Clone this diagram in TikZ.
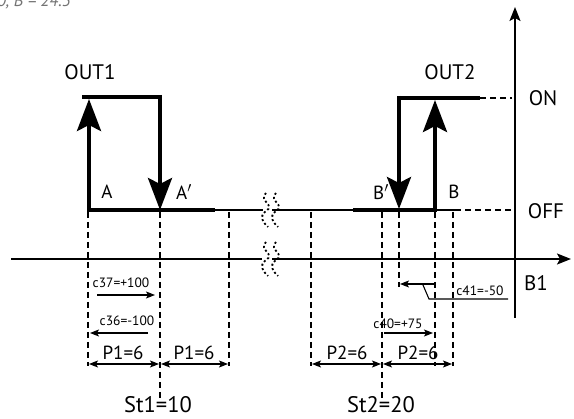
\documentclass[tikz,border=0pt]{standalone}
\usepackage{fontspec}
\setmainfont{PT Sans}
\usetikzlibrary{arrows.meta}
\tikzset{
  thickline/.style={line width=4pt},
  thinline/.style={line width=1.4pt},
  dashline/.style={line width=1.3pt, dash pattern=on 6pt off 4pt},
  bigarrow/.style={line width=4pt, -{Stealth[length=32pt,width=24pt,inset=6pt]}},
  smallarrow/.style={line width=1.1pt, -{Stealth[length=9pt,width=7pt,inset=2pt]}},
  dimarrow/.style={line width=1.1pt, {Stealth[length=9pt,width=7pt,inset=2pt]}-{Stealth[length=9pt,width=7pt,inset=2pt]}},
  squig/.style={line width=1.8pt, dash pattern=on 2pt off 2.4pt},
  big/.style={font=\fontsize{21}{21}\selectfont, inner sep=0pt},
  mid/.style={font=\fontsize{19}{19}\selectfont, inner sep=0pt},
  small/.style={font=\fontsize{13.5}{13.5}\selectfont, inner sep=0pt},
  stlabel/.style={font=\fontsize{22.5}{22.5}\selectfont, inner sep=0pt},
}
\begin{document}
\begin{tikzpicture}[x=1pt,y=-1pt]
\useasboundingbox (0,0) rectangle (574,419);
% clipped header text
\node[anchor=base west, inner sep=0pt, text=black!55, font=\fontsize{17}{17}\itshape] (hdr) at (-3,7) {0, B = 24.5};

% OUT1
\draw[thickline] (82,97) -- (162,97);
\draw[bigarrow] (89,212) -- (89,99);
\draw[bigarrow] (160,95) -- (160,210);
\draw[thickline] (87,210) -- (215,210);
% OUT2
\draw[thickline] (397,98) -- (480,98);
\draw[bigarrow] (399,96) -- (399,209);
\draw[bigarrow] (435,212) -- (435,100);
\draw[thickline] (353,210) -- (437,210);

% thin base line with break
\draw[thinline] (215,210) -- (263,210);
\draw[thinline] (272,210) -- (353,210);
\draw[thinline] (437,210) -- (455,210);

% main axes
\coordinate (hx0) at (11,259);
\coordinate (hx1) at (571,259);
\draw[thinline] (hx0) -- (262,259);
\draw[thinline, -{Stealth[length=14pt,width=11pt,inset=3pt]}] (272,259) -- (hx1);
\coordinate (vy0) at (515,318);
\coordinate (vy1) at (515,7);
\draw[thinline, -{Stealth[length=14pt,width=11pt,inset=3pt]}] (vy0) -- (vy1);

% squiggles
\foreach \dx/\yy in {0/193, 10/193, 0/242, 10/242}{
  \draw[squig] (266+\dx,\yy) .. controls (258+\dx,\yy+8) and (276+\dx,\yy+12) .. (266+\dx,\yy+18)
                               .. controls (258+\dx,\yy+24) and (264+\dx,\yy+30) .. (268+\dx,\yy+34);
}

% ON / OFF dashes
\draw[dashline] (480,98) -- (512,98);
\draw[dashline] (455,210) -- (512,210);

% labels
\node[big] (out1) at (90,72) {OUT1};
\node[big] (out2) at (450,72) {OUT2};
\node[big] (on) at (543,98) {ON};
\node[big] (off) at (546,211) {OFF};
\node[big] (bone) at (536,283) {B1};
\node[mid] (la) at (107,192) {A};
\node[mid] (lap) at (184,192) {A$'$};
\node[mid] (lbp) at (381,192) {B$'$};
\node[mid] (lb) at (454,192) {B};

% dashed verticals
\draw[dashline] (88,212) -- (88,366);
\draw[dashline] (160,212) -- (160,398);
\draw[dashline] (229,212) -- (229,366);
\draw[dashline] (311,212) -- (311,366);
\draw[dashline] (382,212) -- (382,398);
\draw[dashline] (399,212) -- (399,287);
\draw[dashline] (435,212) -- (435,366);
\draw[dashline] (453,212) -- (453,366);

% c37, c36
\node[small] (c37) at (121,283) {c37=+100};
\draw[smallarrow] (97,295) -- (155,295);
\node[small] (c36) at (127,321) {c36=-100};
\draw[smallarrow] (148,333) -- (90,333);
% P1
\node[mid] (p1a) at (123,353) {P1=6};
\node[mid] (p1b) at (194,353) {P1=6};
\draw[dimarrow] (89,364) -- (159,364);
\draw[dimarrow] (161,364) -- (228,364);
\node[stlabel] (st1) at (158,405) {St1=10};

% c41
\draw[smallarrow] (434,284) -- (400,284);
\coordinate (lead0) at (423,285);
\coordinate (lead1) at (429,299);
\coordinate (lead2) at (508,299);
\draw[line width=1.1pt] (lead0) -- (lead1) -- (lead2);
\node[small] (c41) at (480,291) {c41=-50};
% c40
\node[small] (c40) at (398,324) {c40=+75};
\draw[smallarrow] (384,333) -- (433,333);
% P2
\node[mid] (p2a) at (347,353) {P2=6};
\node[mid] (p2b) at (418,353) {P2=6};
\draw[dimarrow] (312,364) -- (381,364);
\draw[dimarrow] (383,364) -- (452,364);
\node[stlabel] (st2) at (381,405) {St2=20};
\end{tikzpicture}
\end{document}
